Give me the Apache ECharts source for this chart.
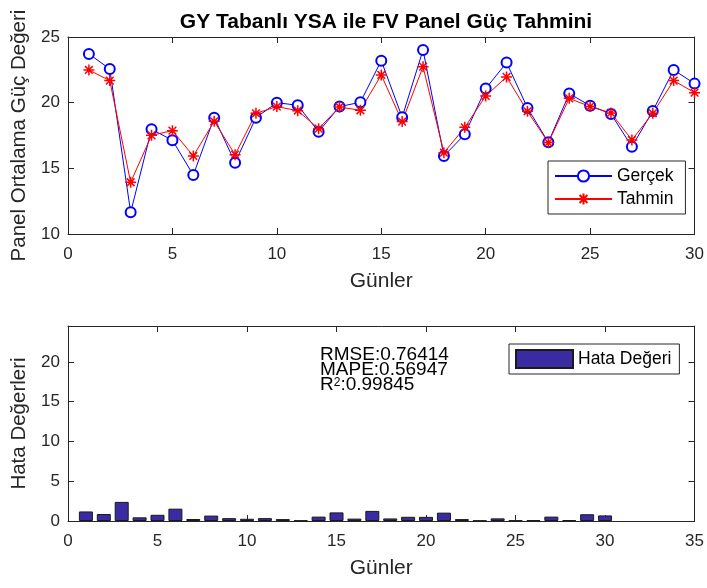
<!DOCTYPE html>
<html>
<head>
<meta charset="utf-8">
<title>GY Tabanlı YSA ile FV Panel Güç Tahmini</title>
<script src="https://cdn.jsdelivr.net/npm/echarts@6/dist/echarts.min.js"></script>
<style>
  * { margin: 0; padding: 0; }
  html, body { background: #fff; }
  #main { width: 707px; height: 588px; }
</style>
</head>
<body>
<div id="main"></div>
<script>
  // values
  var days = [1,2,3,4,5,6,7,8,9,10,11,12,13,14,15,16,17,18,19,20,21,22,23,24,25,26,27,28,29,30];
  var gercek = [23.71,22.57,11.65,17.97,17.14,14.49,18.86,15.43,18.86,20.0,19.8,17.79,19.7,20.03,23.2,
                18.89,24.01,15.94,17.59,21.07,23.05,19.6,16.98,20.69,19.77,19.14,16.65,19.37,22.49,21.45];
  var tahmin = [22.49,21.68,13.94,17.51,17.87,15.94,18.58,16.04,19.19,19.7,19.39,18.02,19.67,19.42,22.11,
                18.56,22.74,16.19,18.12,20.51,21.96,19.34,16.96,20.33,19.7,19.22,17.16,19.19,21.68,20.76];
  var hata = [1.2,0.88,2.4,0.46,0.78,1.55,0.25,0.68,0.36,0.28,0.36,0.24,0.06,0.55,1.08,
              0.3,1.27,0.32,0.53,0.52,1.05,0.24,0.05,0.33,0.07,0.1,0.55,0.12,0.85,0.7];
  var metinler = ['RMSE:0.76414', 'MAPE:0.56947', 'R{s|2}:0.99845'];

  var axisCol = '#262626';
  var fnt = 'Liberation Sans, Arial, sans-serif';
  var star = 'path://M0,-10L0,10M-10,0L10,0M-7,-7L7,7M-7,7L7,-7';

  function xEkseni(grid, max, alt) {
    return {
      type: 'value', gridIndex: grid, min: 0, max: max, interval: 5,
      position: alt ? 'bottom' : 'top',
      axisLine: { show: true, onZero: false, lineStyle: { color: axisCol, width: 1 } },
      axisTick: { show: true, inside: true, length: 6, lineStyle: { color: axisCol } },
      axisLabel: { show: alt, color: axisCol, fontSize: 17, fontFamily: fnt, margin: 12 },
      splitLine: { show: false },
      name: alt ? 'Günler' : '', nameLocation: 'middle', nameGap: 37,
      nameTextStyle: { color: axisCol, fontSize: 21, fontFamily: fnt }
    };
  }
  function yEkseni(grid, min, max, sol, ad) {
    return {
      type: 'value', gridIndex: grid, min: min, max: max, interval: 5,
      position: sol ? 'left' : 'right',
      axisLine: { show: true, onZero: false, lineStyle: { color: axisCol, width: 1 } },
      axisTick: { show: true, inside: true, length: 6, lineStyle: { color: axisCol } },
      axisLabel: { show: sol, color: axisCol, fontSize: 17, fontFamily: fnt, margin: 8, showMaxLabel: max % 5 === 0 },
      splitLine: { show: false },
      name: sol ? ad : '', nameLocation: 'middle', nameGap: 32,
      nameTextStyle: { color: axisCol, fontSize: 20.5, fontFamily: fnt }
    };
  }

  var chart = echarts.init(document.getElementById('main'));
  var option = {
    backgroundColor: '#fff',
    animation: false,
    title: {
      text: 'GY Tabanlı YSA ile FV Panel Güç Tahmini',
      left: 381, top: 7, textAlign: 'center',
      textStyle: { fontSize: 21, fontWeight: 'bold', color: '#000', fontFamily: fnt }
    },
    grid: [
      { left: 68, top: 37, width: 627, height: 197 },
      { left: 68, top: 326, width: 627, height: 195 }
    ],
    xAxis: [
      xEkseni(0, 30, true), xEkseni(0, 30, false),
      xEkseni(1, 35, true), xEkseni(1, 35, false)
    ],
    yAxis: [
      yEkseni(0, 10, 25, true, 'Panel Ortalama Güç Değeri'), yEkseni(0, 10, 25, false, ''),
      yEkseni(1, 0, 24.5, true, 'Hata Değerleri'), yEkseni(1, 0, 24.5, false, '')
    ],
    legend: [
      {
        data: ['Gerçek', 'Tahmin'], orient: 'vertical',
        left: 548, top: 161, padding: [6, 12, 6, 6], itemGap: 5,
        itemWidth: 57, itemHeight: 14,
        backgroundColor: '#fff', borderColor: '#262626', borderWidth: 1, borderRadius: 0,
        textStyle: { fontSize: 17.5, color: '#000', fontFamily: fnt }
      },
      {
        data: ['Hata Değeri'], left: 509, top: 344, icon: 'rect',
        padding: [5, 8, 5, 6], itemWidth: 57, itemHeight: 18, itemGap: 4,
        backgroundColor: '#fff', borderColor: '#262626', borderWidth: 1, borderRadius: 0,
        textStyle: { fontSize: 17.5, color: '#000', fontFamily: fnt }
      }
    ],
    graphic: [{
      type: 'text', left: 320, top: 345,
      style: {
        text: metinler.join('\n'),
        font: '19px ' + fnt, fill: '#000', lineHeight: 15,
        rich: {
          s: { fontSize: 12, fontFamily: fnt, lineHeight: 7, verticalAlign: 'top', fill: '#000' }
        }
      }
    }],
    series: [
      {
        name: 'Gerçek', type: 'line', xAxisIndex: 0, yAxisIndex: 0,
        data: days.map(function (d, i) { return [d, gercek[i]]; }),
        symbol: 'emptyCircle', symbolSize: 10,
        lineStyle: { color: '#0000ff', width: 1 },
        itemStyle: { color: '#0000ff', borderColor: '#0000ff', borderWidth: 1.3 }
      },
      {
        name: 'Tahmin', type: 'line', xAxisIndex: 0, yAxisIndex: 0,
        data: days.map(function (d, i) { return [d, tahmin[i]]; }),
        symbol: star, symbolSize: 11,
        lineStyle: { color: '#ff0000', width: 1 },
        itemStyle: { color: '#ff0000', borderColor: '#ff0000', borderWidth: 1.5 }
      },
      {
        name: 'Hata Değeri', type: 'bar', xAxisIndex: 2, yAxisIndex: 2,
        data: days.map(function (d, i) { return [d, hata[i]]; }),
        barWidth: 14,
        itemStyle: { color: '#3a2ba3', borderColor: '#1a1a1a', borderWidth: 1 }
      }
    ]
  };
  chart.setOption(option);
</script>
</body>
</html>
